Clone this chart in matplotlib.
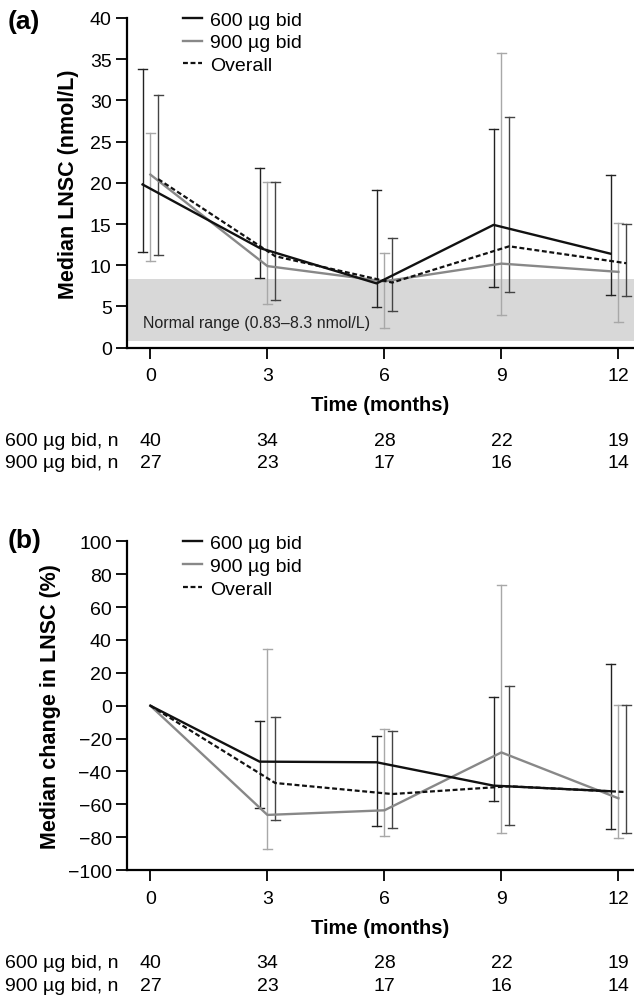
import matplotlib.pyplot as plt
import matplotlib.transforms as mtransforms

plt.rcParams['font.family'] = ['Liberation Sans', 'DejaVu Sans']

months = [0, 3, 6, 9, 12]

# (a) median LNSC, nmol/L
a_600 = [19.8, 12.1, 7.8, 14.9, 11.4]
a_600_lo = [11.6, 8.4, 4.9, 7.4, 6.4]
a_600_hi = [33.8, 21.8, 19.1, 26.5, 21.0]
a_900 = [21.0, 9.9, 8.05, 10.2, 9.2]
a_900_lo = [10.5, 5.3, 2.4, 4.0, 3.1]
a_900_hi = [26.1, 20.1, 11.5, 35.7, 15.1]
a_all = [20.45, 11.1, 7.9, 12.3, 10.25]
a_all_lo = [11.3, 5.8, 4.5, 6.8, 6.3]
a_all_hi = [30.7, 20.1, 13.3, 28.0, 15.0]

# (b) median change in LNSC, %
b_600 = [0, -34.0, -34.4, -48.6, -52.0]
b_600_lo = [None, -62.2, -72.9, -57.9, -74.8]
b_600_hi = [None, -9.1, -18.4, 5.5, 25.2]
b_900 = [0, -66.4, -63.6, -28.4, -56.3]
b_900_lo = [None, -87.1, -79.2, -77.2, -80.6]
b_900_hi = [None, 34.5, -14.4, 73.6, 0.4]
b_all = [0, -47.0, -53.7, -49.0, -52.5]
b_all_lo = [None, -69.7, -74.5, -72.5, -77.4]
b_all_hi = [None, -6.7, -15.6, 12.0, 0.4]

n_600 = [40, 34, 28, 22, 19]
n_900 = [27, 23, 17, 16, 14]

normal_lo, normal_hi = 0.83, 8.3

c600, c900, call = '#111111', '#888888', '#111111'
e600, e900, eall = '#222222', '#a8a8a8', '#444444'
shift = 0.2


def style_axes(ax):
    for s in ['top', 'right']:
        ax.spines[s].set_visible(False)
    for s in ['left', 'bottom']:
        ax.spines[s].set_linewidth(1.6)
    ax.tick_params(direction='out', length=8, width=1.3, labelsize=14, pad=3)
    ax.tick_params(axis='x', pad=6)
    ax.set_xlim(-0.6, 12.4)
    ax.set_xticks(months)


def draw_panel(ax, y6, l6, h6, y9, l9, h9, ya, la, ha, offset_first=True):
    x6 = [m - shift for m in months]
    x9 = list(months)
    xa = [m + shift for m in months]
    if not offset_first:
        x6[0] = 0
        xa[0] = 0
    cap = 0.12
    for xs, lo, hi, col in [(x6, l6, h6, e600), (x9, l9, h9, e900), (xa, la, ha, eall)]:
        for x, l, h in zip(xs, lo, hi):
            if l is None:
                continue
            ax.plot([x, x], [l, h], color=col, lw=1.0, zorder=2)
            ax.plot([x - cap, x + cap], [l, l], color=col, lw=1.0, zorder=2)
            ax.plot([x - cap, x + cap], [h, h], color=col, lw=1.0, zorder=2)
    ax.plot(x9, y9, color=c900, lw=1.7, label='900 µg bid', zorder=3)
    ax.plot(xa, ya, color=call, lw=1.6, ls=(0, (2.2, 1.2)), label='Overall', zorder=4)
    ax.plot(x6, y6, color=c600, lw=1.7, label='600 µg bid', zorder=5)
    h, lab = ax.get_legend_handles_labels()
    order = [2, 0, 1]
    ax.legend([h[i] for i in order], [lab[i] for i in order], loc='upper left',
              bbox_to_anchor=(0.095, 1.045), frameon=False, fontsize=14,
              handlelength=1.0, handletextpad=0.4, labelspacing=0.27, borderaxespad=0)


def n_table(fig, ax, y1, y2):
    tr = mtransforms.blended_transform_factory(ax.transData, fig.transFigure)
    for y, lab, ns in [(y1, '600 µg bid, n', n_600), (y2, '900 µg bid, n', n_900)]:
        fig.text(5 / 634, y, lab, fontsize=14, va='center', ha='left')
        for m, n in zip(months, ns):
            ax.text(m, y, str(n), transform=tr, fontsize=14, va='center', ha='center',
                    clip_on=False)


fig = plt.figure(figsize=(6.34, 10.04), dpi=100)

ax1 = fig.add_axes([0.2003, 0.6527, 0.7997, 0.3284])
ax1.axhspan(normal_lo, normal_hi, color='#d8d8d8', lw=0, zorder=0)
draw_panel(ax1, a_600, a_600_lo, a_600_hi, a_900, a_900_lo, a_900_hi,
           a_all, a_all_lo, a_all_hi)
style_axes(ax1)
ax1.set_ylim(0, 40)
ax1.set_yticks(range(0, 41, 5))
ax1.text(-0.2, 3.0, 'Normal range (0.83–8.3 nmol/L)', fontsize=11.5, va='center',
         ha='left', color='#222222')
ax1.set_ylabel('Median LNSC (nmol/L)', fontsize=15.5, fontweight='bold', labelpad=8)
ax1.set_xlabel('Time (months)', fontsize=14.5, fontweight='bold', labelpad=8)
fig.text(8 / 634, 1 - 22 / 1004, '(a)', fontsize=19, fontweight='bold', va='center')
n_table(fig, ax1, 1 - 441 / 1004, 1 - 464 / 1004)

ax2 = fig.add_axes([0.2003, 0.1323, 0.7997, 0.3276])
draw_panel(ax2, b_600, b_600_lo, b_600_hi, b_900, b_900_lo, b_900_hi,
           b_all, b_all_lo, b_all_hi, offset_first=False)
style_axes(ax2)
ax2.set_ylim(-100, 100)
ax2.set_yticks(range(-100, 101, 20))
ax2.set_yticklabels([str(t).replace('-', '\u2212') for t in range(-100, 101, 20)])
ax2.set_ylabel('Median change in LNSC (%)', fontsize=15.5, fontweight='bold', labelpad=5)
ax2.set_xlabel('Time (months)', fontsize=14.5, fontweight='bold', labelpad=8)
fig.text(8 / 634, 1 - 541 / 1004, '(b)', fontsize=19, fontweight='bold', va='center')
n_table(fig, ax2, 1 - 964 / 1004, 1 - 987 / 1004)

fig.savefig('out.png', dpi=100)
